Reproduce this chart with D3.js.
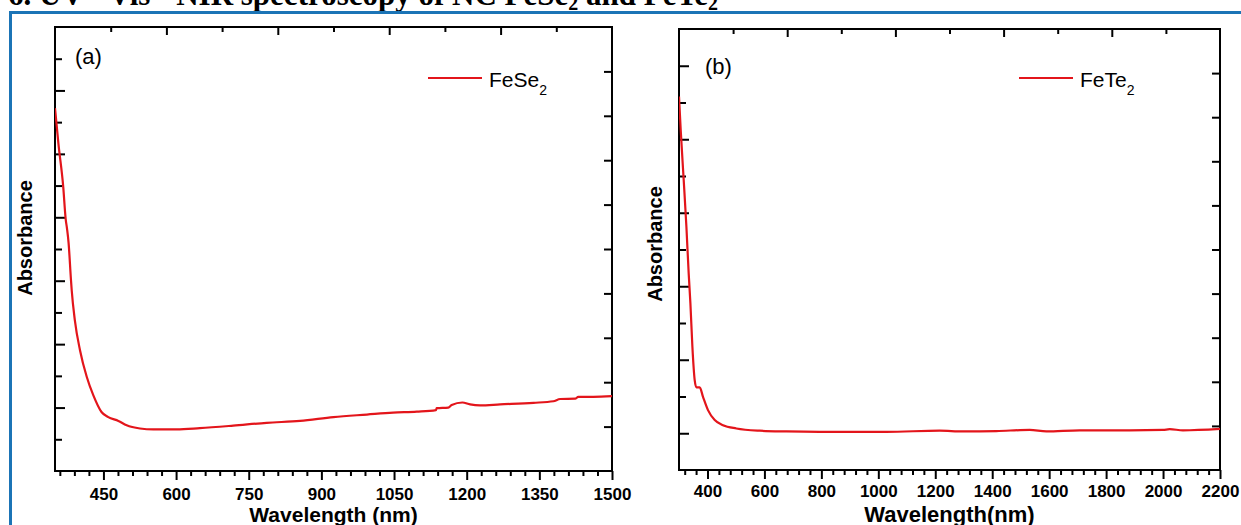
<!DOCTYPE html>
<html><head><meta charset="utf-8">
<script src="https://cdn.jsdelivr.net/npm/d3@7"></script>
<style>
body{margin:0;background:#fff}
svg{display:block}
text{font-family:"Liberation Sans",Arial,sans-serif}
</style>
</head><body>
<svg id="c" width="1241" height="525"></svg>
<script>
// ---- data ----
const wavelengthA = [350,357,367,372,375,378,383,384.5,391,401.6,415.5,429,446,460,481,498,525.5,553,601,649,718,787,856,925,994,1048,1097,1136.5,1138,1162,1169,1191,1207,1227.5,1269,1338,1379,1393,1424,1430.5,1461.5,1500];
const absorbanceA  = [11.44,10.33,8.96,7.95,7.62,7.2,6.02,5.7,4.75,3.81,2.97,2.39,1.86,1.7,1.58,1.44,1.34,1.31,1.31,1.35,1.43,1.52,1.58,1.7,1.78,1.84,1.87,1.92,1.98,2.0,2.08,2.16,2.1,2.07,2.1,2.15,2.2,2.27,2.28,2.34,2.34,2.36];
const wavelengthB = [300,306,316.5,326,334,340,347,355,361,372.7,384.3,401.8,425.4,454.5,501.6,583.4,677.2,794.1,1028.4,1215.6,1297.4,1414.7,1531.7,1590.3,1707.2,1882.8,1999.8,2023.3,2070,2200];
const absorbanceB  = [10.16,9.25,7.89,6.62,5.35,4.54,3.36,2.45,2.25,2.25,1.99,1.63,1.36,1.22,1.13,1.07,1.05,1.04,1.04,1.07,1.05,1.06,1.09,1.05,1.08,1.08,1.09,1.11,1.08,1.12];
const xTicksA = [450,600,750,900,1050,1200,1350,1500];
const xTicksB = [400,600,800,1000,1200,1400,1600,1800,2000,2200];
const seriesNames = ["FeSe", "FeTe"];
const panelLabels = ["(a)", "(b)"];
const xTitles = ["Wavelength (nm)", "Wavelength(nm)"];
const yTitle = "Absorbance";
const titleText = "6. UV - Vis - NIR spectroscopy of NC FeSe";

const svg = d3.select("#c");
const RED = "#e3151b";

// title (cut at the top) and blue frame
const t = svg.append("text").attr("x", 8).attr("y", 5)
  .style("font-family", '"Liberation Serif","Times New Roman",serif')
  .style("font-weight", "bold").style("font-size", "31px").attr("fill", "#000");
t.append("tspan").text(titleText);
t.append("tspan").attr("dy", 5).style("font-size", "20px").text("2");
t.append("tspan").attr("dy", -5).text(" and FeTe");
t.append("tspan").attr("dy", 5).style("font-size", "20px").text("2");

svg.append("rect").attr("x", 10.5).attr("y", 12.5).attr("width", 1300).attr("height", 600)
  .attr("fill", "#fff").attr("stroke", "#1b74b6").attr("stroke-width", 3);

function panel(cfg) {
  const {L, R, T, B, xDomain, yDomain, majors, minorStep, minorStart, wl, ab, tickY,
         leftLongOdd, name, label, labelPos, legendX, xTitle, xTitleSize, xTitleY, yTitleX, yTitleY, id} = cfg;
  const x = d3.scaleLinear().domain(xDomain).range([L, R]);
  const y = d3.scaleLinear().domain(yDomain).range([B, T]);
  const g = svg.append("g");

  // bottom axis majors
  const minors = d3.range(minorStart, xDomain[1] + 0.001, minorStep).filter(v => !majors.includes(v));
  const bAx = g.append("g").attr("transform", `translate(0,${B})`)
    .call(d3.axisBottom(x).tickValues(majors).tickSize(9).tickSizeOuter(0).tickFormat(d3.format("d")));
  bAx.selectAll("text").attr("dy", null).attr("y", tickY)
    .style("font-size", "17px").style("font-weight", "bold").attr("fill", "#000");
  g.append("g").attr("transform", `translate(0,${B})`)
    .call(d3.axisBottom(x).tickValues(minors).tickSize(5).tickSizeOuter(0).tickFormat(""));

  // top axis (inward, 10 divisions)
  const tx = d3.scaleLinear().domain([0, 10]).range([L, R]);
  g.append("g").attr("transform", `translate(0,${T})`)
    .call(d3.axisTop(tx).tickValues([2,4,6,8]).tickSize(-8).tickSizeOuter(0).tickFormat(""));
  g.append("g").attr("transform", `translate(0,${T})`)
    .call(d3.axisTop(tx).tickValues([1,3,5,7,9]).tickSize(-5).tickSizeOuter(0).tickFormat(""));

  // left axis (inward)
  const ly = d3.range(1, yDomain[1]);
  const longL = ly.filter(v => (v % 2 === 1) === leftLongOdd);
  const shortL = ly.filter(v => !longL.includes(v));
  g.append("g").attr("transform", `translate(${L},0)`)
    .call(d3.axisLeft(y).tickValues(longL).tickSize(-10).tickSizeOuter(0).tickFormat(""));
  g.append("g").attr("transform", `translate(${L},0)`)
    .call(d3.axisLeft(y).tickValues(shortL).tickSize(-7).tickSizeOuter(0).tickFormat(""));

  // right axis (inward, 10 divisions)
  const ry = d3.scaleLinear().domain([0, 10]).range([B, T]);
  g.append("g").attr("transform", `translate(${R},0)`)
    .call(d3.axisRight(ry).tickValues(d3.range(1, 10)).tickSize(-8).tickSizeOuter(0).tickFormat(""));

  g.selectAll(".domain").remove();
  g.selectAll(".tick line").attr("stroke", "#000").attr("stroke-width", 2);

  // frame
  g.append("rect").attr("x", L).attr("y", T).attr("width", R - L).attr("height", B - T)
    .attr("fill", "none").attr("stroke", "#000").attr("stroke-width", 2);

  // clip + curve
  svg.append("clipPath").attr("id", id).append("rect")
    .attr("x", L).attr("y", T).attr("width", R - L).attr("height", B - T);
  const pts = wl.map((w, i) => [w, ab[i]]);
  g.append("path").datum(pts).attr("clip-path", `url(#${id})`)
    .attr("d", d3.line().x(d => x(d[0])).y(d => y(d[1])).curve(d3.curveMonotoneX))
    .attr("fill", "none").attr("stroke", RED).attr("stroke-width", 2.2);

  // legend
  g.append("line").attr("x1", legendX).attr("x2", legendX + 54).attr("y1", 78).attr("y2", 78)
    .attr("stroke", RED).attr("stroke-width", 2.2);
  const lt = g.append("text").attr("x", legendX + 61).attr("y", 86.5)
    .style("font-size", "21px").attr("fill", "#000");
  lt.append("tspan").text(name);
  lt.append("tspan").attr("dy", 8).style("font-size", "14px").text("2");

  // panel label
  g.append("text").attr("x", labelPos[0]).attr("y", labelPos[1])
    .style("font-size", "22px").attr("fill", "#000").text(label);

  // axis titles
  g.append("text").attr("x", (L + R) / 2).attr("y", xTitleY).attr("text-anchor", "middle")
    .style("font-size", xTitleSize + "px").style("font-weight", "bold").attr("fill", "#000").text(xTitle);
  g.append("text").attr("transform", `translate(${yTitleX},${yTitleY}) rotate(-90)`)
    .attr("text-anchor", "middle").style("font-size", "20px").style("font-weight", "bold")
    .attr("fill", "#000").text(yTitle);
}

panel({id: "ca", L: 55, R: 612, T: 27, B: 471, xDomain: [350, 1500], yDomain: [0, 14],
  majors: xTicksA, minorStep: 30, minorStart: 360, wl: wavelengthA, ab: absorbanceA, tickY: 29,
  leftLongOdd: false, name: seriesNames[0], label: panelLabels[0], labelPos: [75, 64],
  legendX: 428, xTitle: xTitles[0], xTitleSize: 21, xTitleY: 522, yTitleX: 32, yTitleY: 238});

panel({id: "cb", L: 679, R: 1220, T: 29, B: 470, xDomain: [300, 2200], yDomain: [0, 12],
  majors: xTicksB, minorStep: 40, minorStart: 320, wl: wavelengthB, ab: absorbanceB, tickY: 27,
  leftLongOdd: true, name: seriesNames[1], label: panelLabels[1], labelPos: [705, 74],
  legendX: 1019, xTitle: xTitles[1], xTitleSize: 22, xTitleY: 522, yTitleX: 662, yTitleY: 244});
</script>
</body></html>
